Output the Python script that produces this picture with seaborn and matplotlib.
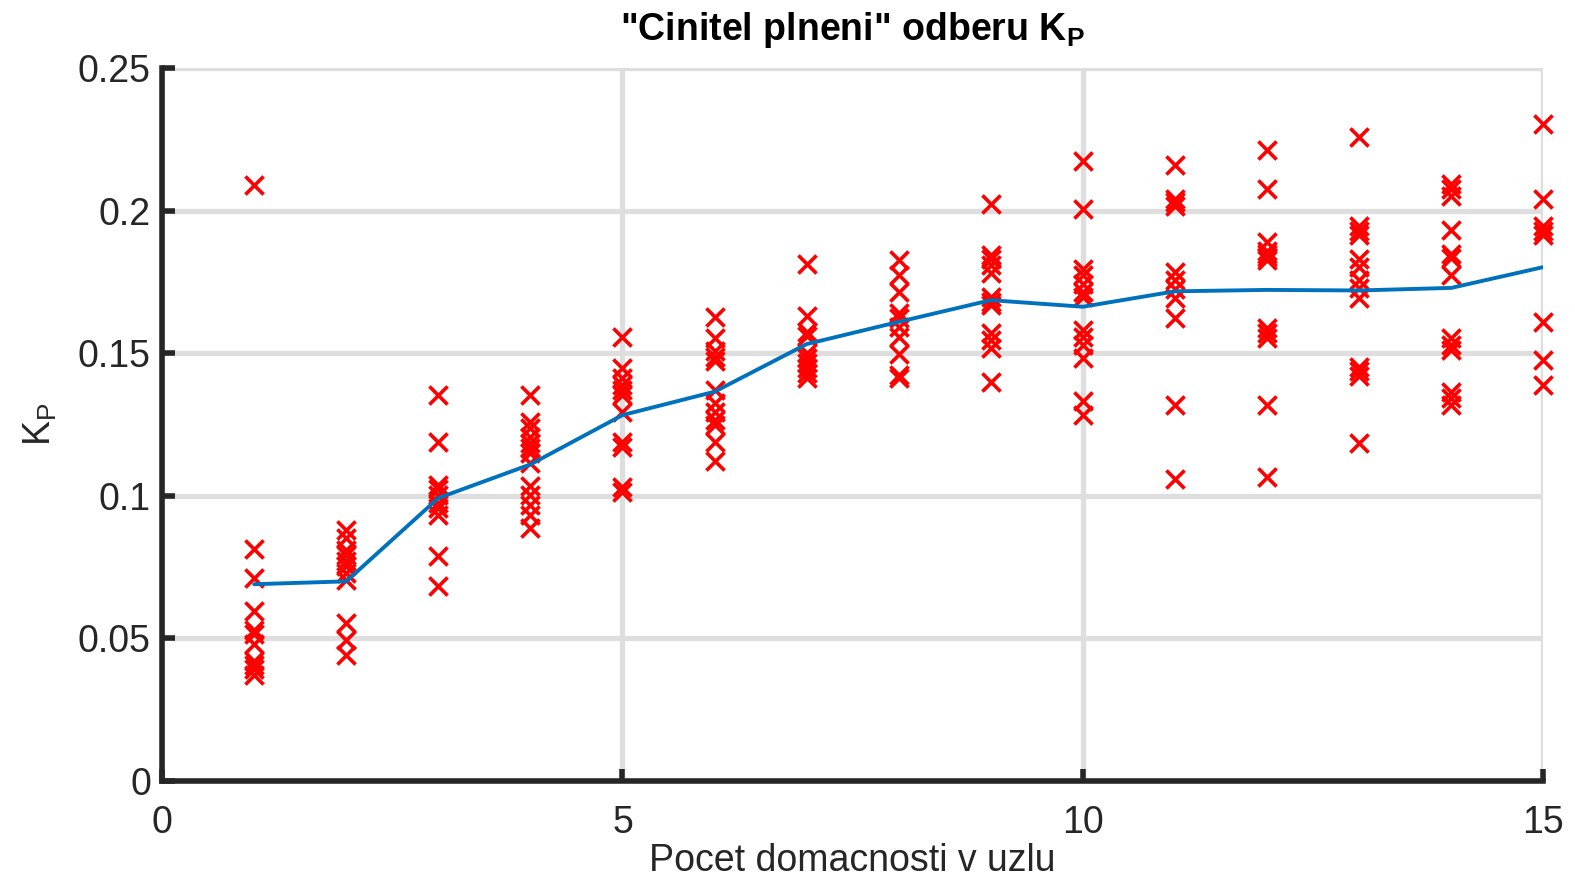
import pandas as pd
import seaborn as sns
import matplotlib.pyplot as plt

n1 = [0.209, 0.0814, 0.0712, 0.0596, 0.0531, 0.0514, 0.0481, 0.0421, 0.0406, 0.0392, 0.0372]
n2 = [0.0879, 0.0852, 0.0811, 0.0794, 0.0770, 0.0753, 0.0730, 0.0706, 0.0555, 0.0493, 0.0442]
n3 = [0.1355, 0.119, 0.1038, 0.1024, 0.1003, 0.0974, 0.0957, 0.0934, 0.079, 0.0683]
n4 = [0.1354, 0.126, 0.1237, 0.1207, 0.1184, 0.1167, 0.1149, 0.1114, 0.1033, 0.1003, 0.0968, 0.0933, 0.0886]
n5 = [0.1556, 0.1447, 0.1412, 0.1389, 0.1371, 0.1354, 0.1295, 0.119, 0.1172, 0.1032, 0.1014]
n6 = [0.1626, 0.1555, 0.1506, 0.1488, 0.1471, 0.1371, 0.1324, 0.1295, 0.1266, 0.1248, 0.119, 0.1122]
n7 = [0.1813, 0.1629, 0.1576, 0.1559, 0.15, 0.1482, 0.1465, 0.1447, 0.143, 0.1412]
n8 = [0.1826, 0.1773, 0.1715, 0.164, 0.1622, 0.1593, 0.1558, 0.1497, 0.1424, 0.1413]
n9 = [0.2023, 0.1843, 0.1831, 0.1808, 0.1783, 0.1698, 0.168, 0.1669, 0.157, 0.1547, 0.1517, 0.1399]
n10 = [0.2174, 0.2006, 0.1797, 0.1773, 0.1744, 0.1715, 0.1698, 0.1581, 0.1558, 0.1529, 0.1483, 0.1331, 0.1285]
n11 = [0.2159, 0.2041, 0.2029, 0.2015, 0.1785, 0.1756, 0.1724, 0.1694, 0.1624, 0.1317, 0.1058]
n12 = [0.2212, 0.2076, 0.189, 0.186, 0.1849, 0.1837, 0.1826, 0.1587, 0.157, 0.1555, 0.132, 0.1066]
n13 = [0.2258, 0.1945, 0.193, 0.1915, 0.1831, 0.1802, 0.1756, 0.1727, 0.1694, 0.1453, 0.1436, 0.1419, 0.1186]
n14 = [0.2093, 0.2076, 0.2052, 0.1933, 0.1849, 0.1834, 0.1773, 0.1555, 0.1529, 0.1512, 0.1364, 0.1343, 0.132]
n15 = [0.2302, 0.2041, 0.1945, 0.193, 0.1913, 0.161, 0.1477, 0.139]

# Mean curve
households = list(range(1, 16))
kp_mean = [0.069, 0.070, 0.0992, 0.111, 0.1283, 0.1365, 0.1532, 0.161,
           0.1686, 0.1663, 0.1717, 0.1722, 0.172, 0.1729, 0.1802]

groups = [n1, n2, n3, n4, n5, n6, n7, n8, n9, n10, n11, n12, n13, n14, n15]
rows = [(n, v) for n, vals in zip(households, groups) for v in vals]
df = pd.DataFrame(rows, columns=['n', 'kp'])
df_mean = pd.DataFrame({'n': households, 'kp': kp_mean})

sns.set_style('white')
plt.rcParams['font.family'] = ['Liberation Sans', 'DejaVu Sans']
plt.rcParams['mathtext.default'] = 'regular'
plt.rcParams['mathtext.fontset'] = 'custom'
plt.rcParams['mathtext.rm'] = 'Liberation Sans'
plt.rcParams['mathtext.bf'] = 'Liberation Sans:bold'

fig = plt.figure(figsize=(15.75, 8.88), dpi=100)
ax = fig.add_axes([0.1029, 0.1205, 0.877, 0.8029])

sns.scatterplot(data=df, x='n', y='kp', marker='x', color='#ff0000', s=170,
                linewidth=2.6, ax=ax, clip_on=False, zorder=3)
sns.lineplot(data=df_mean, x='n', y='kp', color='#0072bd', linewidth=2.8,
             ax=ax, zorder=4)

ax.set_xlim(0, 15)
ax.set_ylim(0, 0.25)
ax.set_xticks([0, 5, 10, 15])
ax.set_yticks([0, 0.05, 0.1, 0.15, 0.2, 0.25])
ax.set_yticklabels(['0', '0.05', '0.1', '0.15', '0.2', '0.25'])
ax.grid(True, color='#dedede', linewidth=3.8)
ax.set_axisbelow(True)

for side in ['top', 'right']:
    ax.spines[side].set_visible(False)
for side in ['left', 'bottom']:
    ax.spines[side].set_color('#262626')
    ax.spines[side].set_linewidth(4)

ax.tick_params(direction='in', length=9, width=4, colors='#262626',
               labelsize=27, left=True, bottom=True)
ax.tick_params(axis='x', pad=17)
ax.tick_params(axis='y', pad=8)

ax.set_xlabel('Pocet domacnosti v uzlu', fontsize=27, color='#262626', labelpad=2)
ax.set_ylabel('K$_P$', fontsize=27, color='#262626', labelpad=14)
ax.set_title('"Cinitel plneni" odberu K$_P$', fontsize=27, fontweight='bold',
             color='#000000', pad=20)

fig.savefig('out.png', dpi=100)
